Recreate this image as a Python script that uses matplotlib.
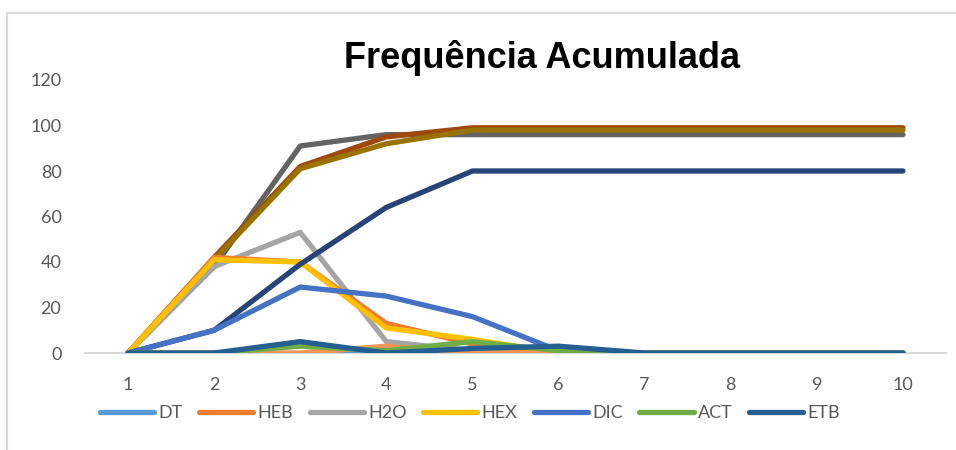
import matplotlib
matplotlib.use("Agg")
import matplotlib.pyplot as plt
from matplotlib.lines import Line2D

x = list(range(1, 11))

# frequency series (shown in the legend)
dt = [0, 0, 0, 0, 0, 0, 0, 0, 0, 0]
heb = [0, 42, 40, 13, 4, 0, 0, 0, 0, 0]
h2o = [0, 38, 53, 5, 1, 0, 0, 0, 0, 0]
hex_ = [0, 41, 40, 11, 6, 0, 0, 0, 0, 0]
dic = [0, 10, 29, 25, 16, 1, 0, 0, 0, 0]
act = [0, 0, 3, 1, 5, 1, 0, 0, 0, 0]
etb = [0, 0, 5, 0, 2, 3, 0, 0, 0, 0]

# accumulated series (not listed in the legend)
heb_acc = [0, 42, 82, 95, 99, 99, 99, 99, 99, 99]
h2o_acc = [0, 38, 91, 96, 96, 96, 96, 96, 96, 96]
hex_acc = [0, 41, 81, 92, 98, 98, 98, 98, 98, 98]
dic_acc = [0, 10, 39, 64, 80, 80, 80, 80, 80, 80]
extra = [0, 0, 0, 3, 0, 0, 0, 0, 0, 0]

legend_names = ["DT", "HEB", "H2O", "HEX", "DIC", "ACT", "ETB"]

plt.rcParams["font.family"] = ["Lato", "DejaVu Sans"]

fig = plt.figure(figsize=(9.56, 4.5), dpi=100)
ax = fig.add_axes([85 / 956, 1 - 353 / 450, (946 - 85) / 956, (353 - 80) / 450])

lw = 3.8
kw = dict(lw=lw, solid_capstyle="round", solid_joinstyle="round")

ax.plot(x, heb_acc, color="#9E480E", zorder=2, **kw)
ax.plot(x, h2o_acc, color="#636363", zorder=1.9, **kw)
ax.plot(x, hex_acc, color="#997300", zorder=2.2, **kw)

handles = []
handles.append(ax.plot(x, dt, color="#5B9BD5", zorder=3, **kw)[0])
handles.append(ax.plot(x, heb, color="#ED7D31", zorder=3.1, **kw)[0])
handles.append(ax.plot(x, h2o, color="#A5A5A5", zorder=3.0, **kw)[0])
handles.append(ax.plot(x, hex_, color="#FFC000", zorder=3.3, **kw)[0])
ax.plot(x, dic_acc, color="#264478", zorder=3.5, **kw)
handles.append(ax.plot(x, dic, color="#4472C4", zorder=4, **kw)[0])
ax.plot(x, extra, color="#F1975A", zorder=4.5, **kw)
handles.append(ax.plot(x, act, color="#70AD47", zorder=5, **kw)[0])
handles.append(ax.plot(x, etb, color="#255E91", zorder=6, **kw)[0])

ax.set_xlim(0.5, 10.5)
ax.set_ylim(0, 120)
ax.set_xticks(x)
ax.set_yticks(range(0, 121, 20))
ax.tick_params(axis="both", length=0, labelsize=13, colors="#595959")
ax.tick_params(axis="x", pad=17)
ax.tick_params(axis="y", pad=17)
for s in ["top", "right", "left"]:
    ax.spines[s].set_visible(False)
ax.spines["bottom"].set_color("#D9D9D9")
ax.spines["bottom"].set_linewidth(1.5)
ax.spines["bottom"].set_zorder(1)

fig.text(542 / 956, 1 - 58 / 450, "Frequência Acumulada", ha="center", va="center",
         fontsize=26, fontweight="bold", family=["Liberation Sans", "DejaVu Sans"])

leg = fig.legend(handles, legend_names, loc="center", bbox_to_anchor=(470 / 956, 1 - 413 / 450),
                 ncol=7, frameon=False, fontsize=13, handlelength=3.0, handletextpad=0.25,
                 columnspacing=0.9)
for t in leg.get_texts():
    t.set_color("#595959")

# chart area frame (partly cut off in the image)
fig.add_artist(Line2D([7 / 956, 7 / 956], [1 - 13 / 450, 0], color="#D9D9D9", lw=1.5))
fig.add_artist(Line2D([7 / 956, 1], [1 - 13 / 450, 1 - 13 / 450], color="#D9D9D9", lw=1.5))

fig.savefig("out.png", dpi=100)
